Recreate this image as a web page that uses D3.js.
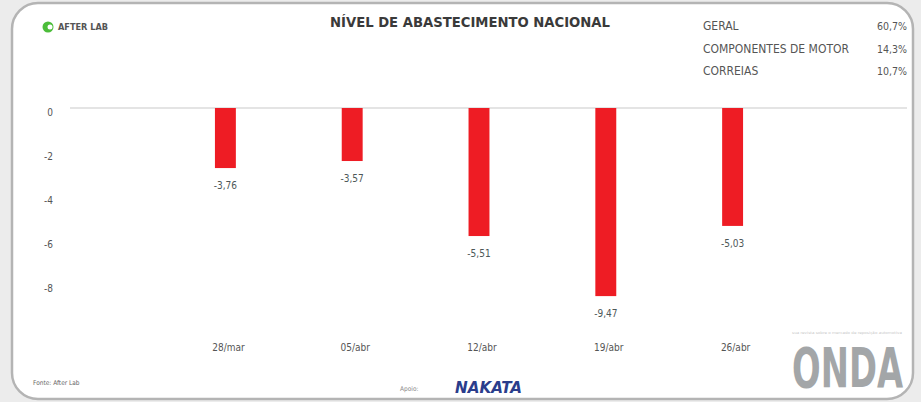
<!DOCTYPE html>
<html>

<head>
    <meta charset=utf-8 />
    <script src="https://cdn.jsdelivr.net/npm/d3@7/dist/d3.min.js"></script>
    <title>Nível de abastecimento nacional</title>
    <style>
        html,
        body {
            margin: 0;
            padding: 0;
            background: #ececec;
        }

        svg {
            display: block;
            width: 921px;
            height: 402px;
        }

        text {
            font-family: "DejaVu Sans Condensed", "DejaVu Sans", sans-serif;
            font-stretch: condensed;
        }
    </style>
</head>

<body>
    <svg></svg>
    <script>
        var categories = ['28/mar', '05/abr', '12/abr', '19/abr', '26/abr'];
        // bar lengths as drawn against the axis
        var barValues = [-2.73, -2.41, -5.82, -8.55, -5.36];
        // values printed under the bars
        var valueLabels = ['-3,76', '-3,57', '-5,51', '-9,47', '-5,03'];
        var yTicks = [0, -2, -4, -6, -8];

        var legendNames = ['GERAL', 'COMPONENTES DE MOTOR', 'CORREIAS'];
        var legendValues = ['60,7%', '14,3%', '10,7%'];

        var svg = d3.select('svg');

        // card frame
        svg.append('rect')
            .attr('x', 12).attr('y', 3)
            .attr('width', 901).attr('height', 396)
            .attr('rx', 26).attr('ry', 26)
            .attr('fill', '#fff')
            .attr('stroke', '#b4b4b4')
            .attr('stroke-width', 2.5);

        var x = d3.scaleBand()
            .domain(categories)
            .range([162, 796])
            .paddingInner(0.835)
            .paddingOuter(0.4175);

        var y = d3.scaleLinear()
            .domain([-9, 0])
            .range([108 + 9 * 22, 108]);

        // zero line
        svg.append('line')
            .attr('x1', 70).attr('x2', 907)
            .attr('y1', y(0)).attr('y2', y(0))
            .attr('stroke', '#e4e4e4')
            .attr('stroke-width', 2);

        // y axis labels
        var yAxis = d3.axisLeft(y)
            .tickValues(yTicks)
            .tickSize(0)
            .tickPadding(0)
            .tickFormat(function (d) { return d3.format('d')(d).replace('−', '-'); });

        var ya = svg.append('g')
            .attr('transform', 'translate(53, 4)')
            .call(yAxis);
        ya.select('.domain').remove();
        ya.selectAll('text')
            .attr('fill', '#555')
            .style('font-size', '10px');

        // x axis labels
        var xAxis = d3.axisBottom(x).tickSize(0).tickPadding(0);
        var xa = svg.append('g')
            .attr('transform', 'translate(3, 344)')
            .call(xAxis);
        xa.select('.domain').remove();
        xa.selectAll('text')
            .attr('fill', '#555')
            .style('font-size', '10px');

        // bars
        svg.append('g').selectAll('rect')
            .data(barValues)
            .enter().append('rect')
            .attr('x', function (d, i) { return x(categories[i]); })
            .attr('width', x.bandwidth())
            .attr('y', y(0))
            .attr('height', function (d) { return y(d) - y(0); })
            .attr('fill', '#ee1c24');

        // value labels
        svg.append('g').selectAll('text')
            .data(barValues)
            .enter().append('text')
            .attr('x', function (d, i) { return x(categories[i]) + x.bandwidth() / 2; })
            .attr('y', function (d) { return y(d) + 21; })
            .attr('text-anchor', 'middle')
            .attr('fill', '#4d5858')
            .style('font-size', '10px')
            .text(function (d, i) { return valueLabels[i]; });

        // title
        svg.append('text')
            .attr('x', 330).attr('y', 27)
            .attr('textLength', 280)
            .attr('lengthAdjust', 'spacingAndGlyphs')
            .attr('fill', '#3a3a3a')
            .style('font-size', '14px')
            .style('font-weight', 'bold')
            .text('NÍVEL DE ABASTECIMENTO NACIONAL');

        // legend box top right
        var lg = svg.append('g');
        lg.selectAll('text.name')
            .data(legendNames)
            .enter().append('text')
            .attr('class', 'name')
            .attr('x', 703)
            .attr('y', function (d, i) { return 30 + i * 22.5; })
            .attr('fill', '#555')
            .style('font-size', '12px')
            .text(function (d) { return d; });
        lg.selectAll('text.val')
            .data(legendValues)
            .enter().append('text')
            .attr('class', 'val')
            .attr('x', 907)
            .attr('y', function (d, i) { return 30 + i * 22.5; })
            .attr('text-anchor', 'end')
            .attr('fill', '#555')
            .style('font-size', '10.5px')
            .text(function (d) { return d; });

        // after lab logo
        var logo = svg.append('g').attr('transform', 'translate(42, 27)');
        logo.append('circle').attr('r', 5.5).attr('cx', 6).attr('cy', 0).attr('fill', '#4cbd3a');
        logo.append('circle').attr('r', 2.5).attr('cx', 8).attr('cy', 0).attr('fill', '#fff');
        logo.append('text')
            .attr('x', 16).attr('y', 3)
            .attr('textLength', 50)
            .attr('lengthAdjust', 'spacingAndGlyphs')
            .attr('fill', '#555')
            .style('font-size', '8px')
            .style('font-weight', 'bold')
            .text('AFTER LAB');

        // footer
        svg.append('text')
            .attr('x', 33).attr('y', 385)
            .attr('fill', '#666')
            .style('font-size', '6.5px')
            .text('Fonte: After Lab');

        svg.append('text')
            .attr('x', 400).attr('y', 391)
            .attr('fill', '#888')
            .style('font-size', '6.5px')
            .text('Apoio:');

        svg.append('text')
            .attr('x', 455).attr('y', 393)
            .attr('textLength', 67)
            .attr('lengthAdjust', 'spacingAndGlyphs')
            .attr('fill', '#2a3d8c')
            .style('font-size', '15px')
            .style('font-weight', 'bold')
            .style('font-style', 'italic')
            .text('NAKATA');

        svg.append('text')
            .attr('transform', 'translate(792, 387) scale(1, 1.6)')
            .attr('textLength', 111)
            .attr('lengthAdjust', 'spacingAndGlyphs')
            .attr('fill', '#a3a6a8')
            .style('font-size', '34px')
            .style('font-weight', 'bold')
            .text('ONDA');

        svg.append('text')
            .attr('x', 792).attr('y', 334)
            .attr('textLength', 110)
            .attr('lengthAdjust', 'spacingAndGlyphs')
            .attr('fill', '#c8c8c8')
            .style('font-size', '3.5px')
            .text('sua revista sobre o mercado de reposição automotiva');
    </script>
</body>

</html>
